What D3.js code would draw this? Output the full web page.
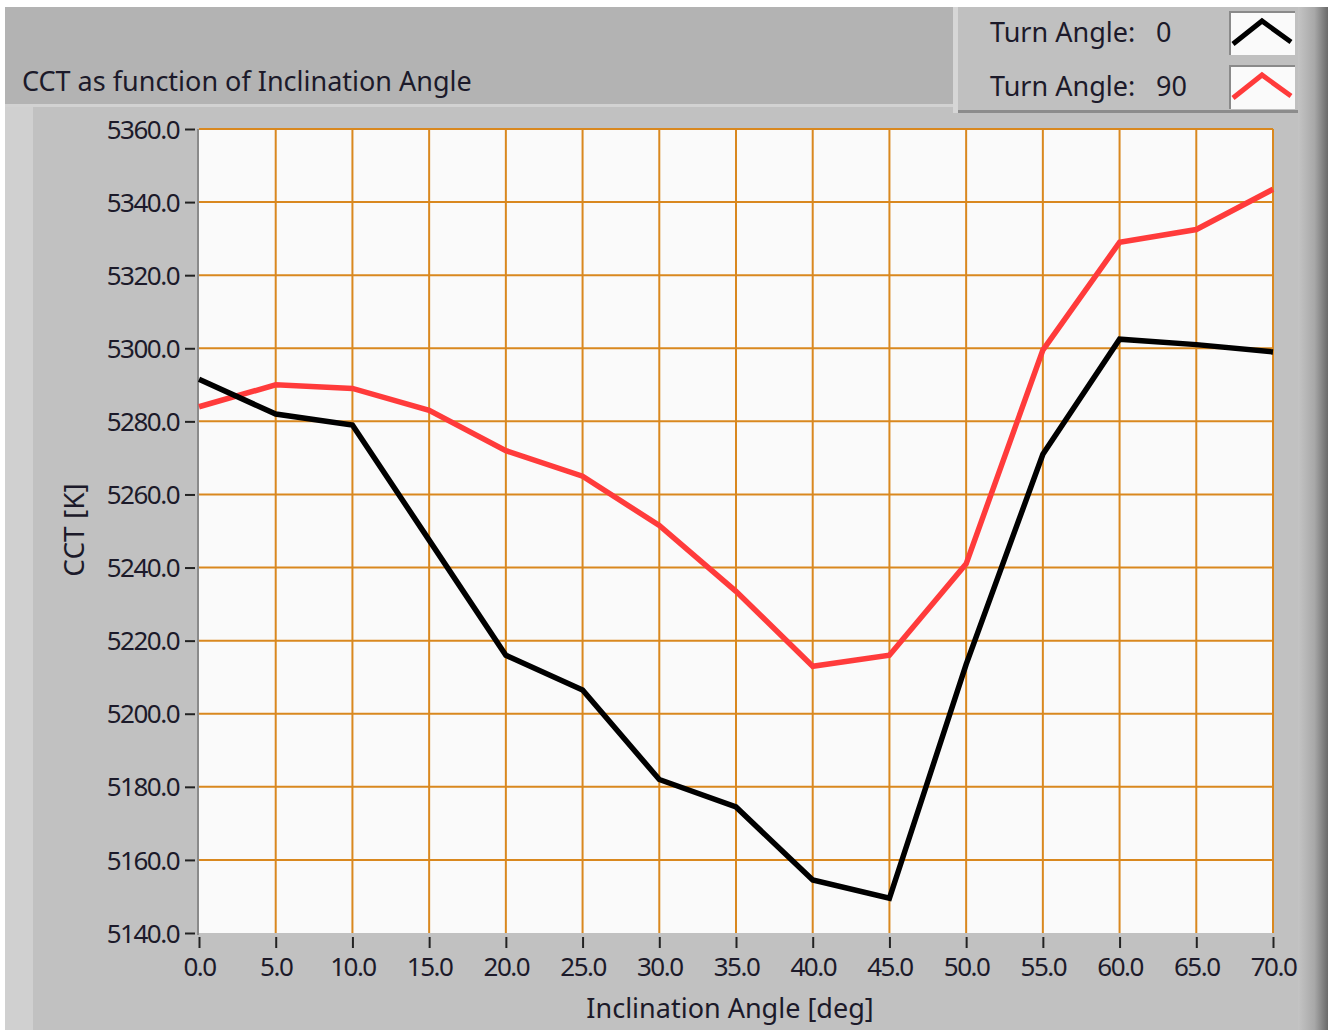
<!DOCTYPE html>
<html>
<head>
<meta charset="utf-8">
<script src="https://cdn.jsdelivr.net/npm/d3@7"></script>
<style>
  body { margin: 0; background: #fff; }
  text { font-family: "Noto Sans", sans-serif; fill: #1c1a2a; }
</style>
</head>
<body>
<div id="chart"></div>
<script>
// chart data
var angles = [0, 5, 10, 15, 20, 25, 30, 35, 40, 45, 50, 55, 60, 65, 70];
var turn0 = [5291.5, 5282, 5279, 5247.5, 5216, 5206.5, 5182, 5174.5, 5154.5, 5149.5, 5213.5, 5271, 5302.5, 5301, 5299];
var turn90 = [5284, 5290, 5289, 5283, 5272, 5265, 5251.5, 5233.5, 5213, 5216, 5241, 5299.5, 5329, 5332.5, 5343.5];
var seriesNames = ["Turn Angle:", "Turn Angle:"];
var seriesValues = ["0", "90"];
var seriesColors = ["#000000", "#ff3b3b"];
var xTicks = d3.range(0, 71, 5);
var yTicks = d3.range(5140, 5361, 20);

var width = 1328, height = 1030;
var plot = {left: 199, right: 1273, top: 129, bottom: 933};

var svg = d3.select("#chart").append("svg")
  .attr("width", width).attr("height", height);

// panel backgrounds (LabVIEW style)
svg.append("rect").attr("x", 5).attr("y", 7).attr("width", width).attr("height", height).attr("fill", "#c1c1c1");
svg.append("rect").attr("x", 5).attr("y", 7).attr("width", 948).attr("height", 98).attr("fill", "#b3b3b3");
svg.append("rect").attr("x", 5).attr("y", 104).attr("width", 948).attr("height", 3).attr("fill", "#d2d2d2");
svg.append("rect").attr("x", 5).attr("y", 107).attr("width", 28).attr("height", height).attr("fill", "#d0d0d0");

// legend panel
svg.append("rect").attr("x", 953).attr("y", 7).attr("width", 345).attr("height", 106).attr("fill", "#c0c0c0");
svg.append("rect").attr("x", 953).attr("y", 7).attr("width", 5).attr("height", 106).attr("fill", "#d6d6d6");
svg.append("rect").attr("x", 958).attr("y", 110).attr("width", 340).attr("height", 3).attr("fill", "#8c8c8c");

// right edge gradient
var grad = svg.append("defs").append("linearGradient").attr("id", "edge");
grad.append("stop").attr("offset", "0%").attr("stop-color", "#c4c4c4");
grad.append("stop").attr("offset", "55%").attr("stop-color", "#a8a8a8");
grad.append("stop").attr("offset", "100%").attr("stop-color", "#6a6a6a");
svg.append("rect").attr("x", 1298).attr("y", 7).attr("width", 30).attr("height", height).attr("fill", "url(#edge)");

// title
svg.append("text").attr("x", 22).attr("y", 91).attr("font-size", 27)
  .text("CCT as function of Inclination Angle");

var x = d3.scaleLinear().domain([0, 70]).range([plot.left, plot.right]);
var y = d3.scaleLinear().domain([5140, 5360]).range([plot.bottom, plot.top]);

// plot area
svg.append("rect").attr("x", plot.left).attr("y", plot.top)
  .attr("width", plot.right - plot.left).attr("height", plot.bottom - plot.top)
  .attr("fill", "#fafafa");
svg.append("line").attr("x1", plot.left - 1).attr("x2", plot.left - 1)
  .attr("y1", plot.top).attr("y2", plot.bottom + 2)
  .attr("stroke", "#8a8a8a").attr("stroke-width", 2);

// grid
var grid = svg.append("g").attr("stroke", "#d9881f").attr("stroke-width", 2);
grid.selectAll(".gx").data(xTicks.slice(1)).enter().append("line")
  .attr("x1", function(d){ return x(d); }).attr("x2", function(d){ return x(d); })
  .attr("y1", plot.top).attr("y2", plot.bottom);
grid.selectAll(".gy").data(yTicks.slice(1)).enter().append("line")
  .attr("y1", function(d){ return y(d); }).attr("y2", function(d){ return y(d); })
  .attr("x1", plot.left).attr("x2", plot.right);

// axes
var xAxis = svg.append("g").attr("transform", "translate(0," + (plot.bottom + 4) + ")")
  .call(d3.axisBottom(x).tickValues(xTicks).tickSize(11).tickPadding(10).tickFormat(d3.format(".1f")));
var yAxis = svg.append("g").attr("transform", "translate(" + (plot.left - 4) + ",0)")
  .call(d3.axisLeft(y).tickValues(yTicks).tickSize(10).tickPadding(6).tickFormat(d3.format(".1f")));
[xAxis, yAxis].forEach(function(a){
  a.select(".domain").remove();
  a.selectAll(".tick line").attr("stroke", "#222").attr("stroke-width", 2);
  a.selectAll(".tick text").attr("font-size", 26).attr("font-family", "Noto Sans").attr("fill", "#1c1a2a")
    .attr("letter-spacing", -1.5);
});
yAxis.selectAll(".tick text").attr("dy", "0.35em");

// axis titles
svg.append("text").attr("x", 730).attr("y", 1018).attr("text-anchor", "middle").attr("font-size", 27)
  .text("Inclination Angle [deg]");
svg.append("text").attr("transform", "translate(84,530) rotate(-90)").attr("text-anchor", "middle")
  .attr("font-size", 28).text("CCT [K]");

// lines
var line = d3.line().x(function(d){ return x(d[0]); }).y(function(d){ return y(d[1]); });
[turn90, turn0].forEach(function(vals, i){
  var col = i === 0 ? seriesColors[1] : seriesColors[0];
  svg.append("path").datum(d3.zip(angles, vals)).attr("d", line)
    .attr("fill", "none").attr("stroke", col).attr("stroke-width", 5.5)
    .attr("stroke-linejoin", "miter");
});

// legend
seriesNames.forEach(function(name, i){
  var ty = 42 + i * 54;
  svg.append("text").attr("x", 990).attr("y", ty).attr("font-size", 27).text(name);
  svg.append("text").attr("x", 1156).attr("y", ty).attr("font-size", 27).text(seriesValues[i]);
  var bx = 1229, by = 11 + i * 54;
  svg.append("rect").attr("x", bx).attr("y", by).attr("width", 66).attr("height", 44).attr("fill", "#8a8a8a");
  svg.append("rect").attr("x", bx + 2).attr("y", by + 2).attr("width", 64).attr("height", 42).attr("fill", "#fafafa");
  svg.append("path").attr("d", "M" + (bx + 4) + "," + (by + 33) + " L" + (bx + 33) + "," + (by + 10) + " L" + (bx + 62) + "," + (by + 31))
    .attr("fill", "none").attr("stroke", seriesColors[i]).attr("stroke-width", 5);
});
</script>
</body>
</html>
